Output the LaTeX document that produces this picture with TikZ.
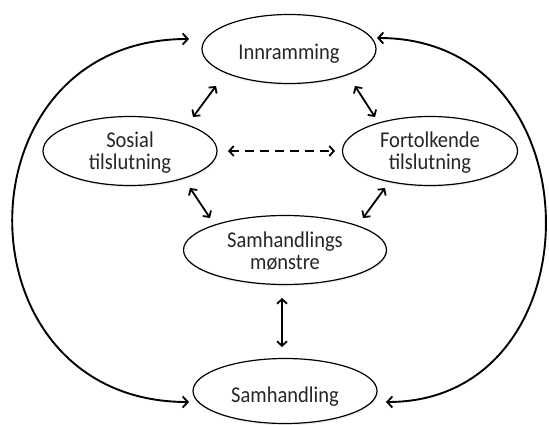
\documentclass[tikz,border=0pt]{standalone}
\usepackage{fontspec}
\setmainfont{Carlito}
\usepackage{graphicx}
\usetikzlibrary{shapes.geometric,arrows.meta,shadows}
% label text: slightly tall Calibri-like face;
% #1 is the height reserved above the last baseline (centres the block)
\newcommand\tabtext[1]{\begin{tabular}[b]{@{}c@{}}#1\end{tabular}}
\newcommand\lbl[2]{\raisebox{0pt}[#1][0pt]{\scalebox{1}[1.1]{\tabtext{#2}}}}
\begin{document}
\begin{tikzpicture}[x=1pt,y=-1pt,
  concept/.style={ellipse,draw,fill=white,line width=1.2pt,inner sep=0pt,
    minimum height=69pt,
    drop shadow={opacity=0.12,shadow xshift=0.8pt,shadow yshift=-1.8pt},
    font=\fontsize{20.5}{20}\selectfont,text=black!85},
  link/.style={line width=1.8pt,{Straight Barb[length=4.5pt,width=10pt]}-{Straight Barb[length=4.5pt,width=10pt]}},
  loop/.style={line width=1.9pt,{Straight Barb[length=5pt,width=11pt]}-{Straight Barb[length=5pt,width=11pt]}}]
\useasboundingbox[fill=white] (0,0) rectangle (549,425);

% concepts
\node[concept,minimum width=174pt] (inn) at (289,49) {\lbl{22pt}{Innramming}};
\node[concept,minimum width=174pt] (sos) at (130,151) {\lbl{38pt}{Sosial\\tilslutning}};
\node[concept,minimum width=175pt] (fort) at (430,151) {\lbl{38pt}{Fortolkende\\tilslutning}};
\node[concept,minimum width=203pt] (mon) at (285,250) {\lbl{38pt}{Samhandlings\\mønstre}};
\node[concept,minimum width=184pt,minimum height=65pt] (sam) at (285,391) {\lbl{22pt}{Samhandling}};

% free ends of the short links
\coordinate (innSW) at (216,86);
\coordinate (sosNE) at (193,117);
\coordinate (innSE) at (355,86);
\coordinate (fortNW) at (375,117);
\coordinate (sosSE) at (190,188);
\coordinate (monNW) at (210,218);
\coordinate (fortSW) at (385,188);
\coordinate (monNE) at (363,218);
\coordinate (sosE) at (228,151);
\coordinate (fortW) at (335,151);
\coordinate (monS) at (282,298);
\coordinate (samN) at (282,347);

\draw[link] (innSW) -- (sosNE);
\draw[link] (innSE) -- (fortNW);
\draw[link] (sosSE) -- (monNW);
\draw[link] (fortSW) -- (monNE);
\draw[link] (monS) -- (samN);
\draw[link,dash pattern=on 9pt off 6pt] (sosE) -- (fortW);

% outer loops
\coordinate (innW) at (189,39);
\coordinate (samW) at (189,402);
\coordinate (innE) at (377,38);
\coordinate (samE) at (386,402);
\draw[loop] (innW) .. controls (-46,39) and (-46,402) .. (samW);
\draw[loop] (innE) .. controls (600,38) and (600,402) .. (samE);
\end{tikzpicture}
\end{document}
